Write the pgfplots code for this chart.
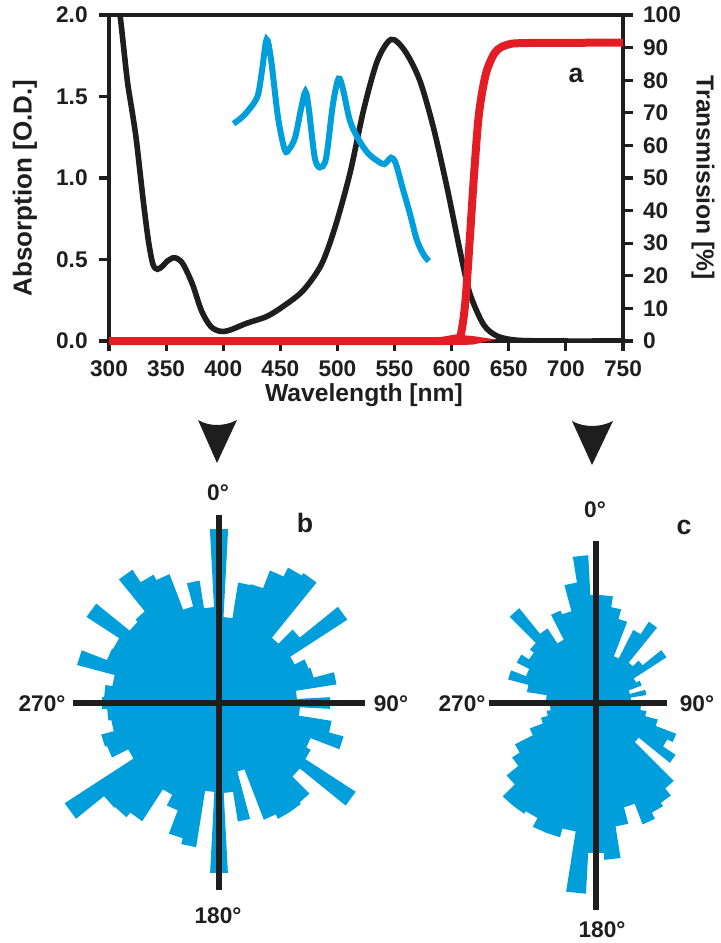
\documentclass[border=0pt]{standalone}
\usepackage{fontspec}
\setmainfont{Liberation Sans}
\usepackage{pgfplots}
\usepackage{pgfplotstable}
\pgfplotsset{compat=1.18}
\usepgfplotslibrary{polar}

\definecolor{specblue}{RGB}{0,158,219}
\definecolor{tred}{RGB}{226,30,36}
\definecolor{ink}{RGB}{30,30,30}

% absorption of the dye (left axis)
\pgfplotstableread{
lam A
305 2.25
310 1.98
316 1.60
320 1.42
324 1.23
330 0.86
334.5 0.615
338.5 0.47
342.5 0.44
347 0.46
351 0.49
356 0.51
360 0.505
365 0.47
373 0.35
381 0.185
389 0.09
397 0.06
405 0.065
421 0.11
438 0.15
453 0.215
470 0.31
486 0.47
498 0.70
511 1.03
523 1.42
535 1.72
547 1.85
559 1.78
572 1.60
584 1.31
596 0.94
608 0.53
616 0.29
628 0.10
640 0.03
657 0.005
690 0
750 0
}\absorb

% emission spectrum (blue)
\pgfplotstableread{
lam A
409 1.333
416 1.37
422 1.415
430 1.50
434 1.66
438 1.85
442 1.72
448 1.37
454 1.17
458 1.18
463 1.25
468 1.42
472 1.53
475 1.42
480 1.13
484.5 1.065
490 1.12
496 1.45
501 1.61
505 1.54
511 1.35
519 1.23
527 1.15
535 1.105
541 1.085
547 1.125
551 1.09
557 0.94
563.5 0.78
569.5 0.62
575.5 0.53
580 0.49
}\emis

% filter transmission (right axis)
\pgfplotstableread{
lam T
300 0
600 0
604 0.8
608 2
612 12
616 32
620 53
624 70
630 82
638 88.5
648 90.8
665 91.4
750 91.5
}\trans

% rose b: compass angle, radius (6 deg bins, two rows per bin)
\pgfplotstableread[row sep=\\]{
ang r\\
-3 174\\ 3 174\\ 3 86\\ 9 86\\ 9 122\\ 15 122\\ 15 123\\ 21 123\\
21 142\\ 27 142\\ 27 152\\ 33 152\\ 33 155\\ 39 155\\ 39 84\\ 45 84\\
45 104\\ 51 104\\ 51 153\\ 57 153\\ 57 85\\ 63 85\\ 63 96\\ 69 96\\
69 98\\ 75 98\\ 75 119\\ 81 119\\ 81 78\\ 87 78\\ 87 111\\ 93 111\\
93 81\\ 99 81\\ 99 114\\ 105 114\\ 105 129\\ 111 129\\ 111 98\\ 117 98\\
117 103\\ 123 103\\ 123 163\\ 129 163\\ 129 104\\ 135 104\\ 135 128\\ 141 128\\
141 130\\ 147 130\\ 147 130\\ 153 130\\ 153 125\\ 159 125\\ 159 71\\ 165 71\\
165 120\\ 171 120\\ 171 90\\ 177 90\\ 177 170\\ 183 170\\ 183 89\\ 189 89\\
189 146\\ 195 146\\ 195 140\\ 201 140\\ 201 115\\ 207 115\\ 207 103\\ 213 103\\
213 141\\ 219 141\\ 219 147\\ 225 147\\ 225 148\\ 231 148\\ 231 184\\ 237 184\\
237 102\\ 243 102\\ 243 120\\ 249 120\\ 249 122\\ 255 122\\ 255 109\\ 261 109\\
261 112\\ 267 112\\ 267 117\\ 273 117\\ 273 115\\ 279 115\\ 279 108\\ 285 108\\
285 147\\ 291 147\\ 291 120\\ 297 120\\ 297 119\\ 303 119\\ 303 158\\ 309 158\\
309 115\\ 315 115\\ 315 118\\ 321 118\\ 321 159\\ 327 159\\ 327 144\\ 333 144\\
333 138\\ 339 138\\ 339 100\\ 345 100\\ 345 124\\ 351 124\\ 351 96\\ 357 96\\
}\roseb

% rose c
\pgfplotstableread[row sep=\\]{
ang r\\
-3 108\\ 3 108\\ 3 108\\ 9 108\\ 9 97\\ 15 97\\ 15 87\\ 21 87\\
21 50\\ 27 50\\ 27 82\\ 33 82\\ 33 97\\ 39 97\\ 39 52\\ 45 52\\
45 60\\ 51 60\\ 51 84\\ 57 84\\ 57 45\\ 63 45\\ 63 49\\ 69 49\\
69 35\\ 75 35\\ 75 51\\ 81 51\\ 81 35\\ 87 35\\ 87 40\\ 93 40\\
93 45\\ 99 45\\ 99 51\\ 105 51\\ 105 64\\ 111 64\\ 111 86\\ 117 86\\
117 80\\ 123 80\\ 123 95\\ 129 95\\ 129 55\\ 135 55\\ 135 110\\ 141 110\\
141 119\\ 147 119\\ 147 123\\ 153 123\\ 153 130\\ 159 130\\ 159 108\\ 165 108\\
165 125\\ 171 125\\ 171 157\\ 177 157\\ 177 150\\ 183 150\\ 183 191\\ 189 191\\
189 130\\ 195 130\\ 195 139\\ 201 139\\ 201 139\\ 207 139\\ 207 129\\ 213 129\\
213 132\\ 219 132\\ 219 132\\ 225 132\\ 225 115\\ 231 115\\ 231 100\\ 237 100\\
237 91\\ 243 91\\ 243 71\\ 249 71\\ 249 57\\ 255 57\\ 255 50\\ 261 50\\
261 46\\ 267 46\\ 267 48\\ 273 48\\ 273 50\\ 279 50\\ 279 70\\ 285 70\\
285 91\\ 291 91\\ 291 75\\ 297 75\\ 297 89\\ 303 89\\ 303 80\\ 309 80\\
309 85\\ 315 85\\ 315 122\\ 321 122\\ 321 89\\ 327 89\\ 327 71\\ 333 71\\
333 99\\ 339 99\\ 339 95\\ 345 95\\ 345 122\\ 351 122\\ 351 148\\ 357 148\\
}\rosec

\pgfplotsset{
  spec/.style={
    at={(81.75pt,-255.75pt)}, anchor=south west,
    scale only axis, width=385.5pt, height=244.5pt,
    xmin=300, xmax=750,
    axis line style={line width=3.3pt, ink, line cap=rect},
    tick style={line width=2.4pt, ink},
    major tick length=7.5pt,
    tick align=outside,
    ticklabel style={font=\fontsize{17}{18}\selectfont\bfseries, text=ink},
    /pgf/number format/assume math mode=true,
  },
  rose/.style={
    anchor=center, scale only axis, width=300pt, height=300pt,
    xmin=0, xmax=360, ymin=0, ymax=200,
    hide axis, clip=false,
  },
}

\newcommand{\lbl}{\fontsize{17}{18}\selectfont\bfseries}
\newcommand{\panel}{\fontsize{20}{21}\selectfont\bfseries}

\begin{document}
\begin{tikzpicture}[x=1pt,y=1pt]
\path[use as bounding box] (0,0) rectangle (540.75,-707.25);

\begin{axis}[spec,
  ymin=0, ymax=2,
  axis y line*=left,
  xtick pos=bottom, ytick pos=left,
  xtick={300,350,...,750},
  ytick={0,0.5,1,1.5,2},
  yticklabel style={xshift=-5pt, /pgf/number format/.cd, fixed, fixed zerofill, precision=1},
  xticklabel style={yshift=-4pt},
]
\addplot[ink, line width=4.2pt, smooth] table[x=lam, y=A] {\absorb};
\addplot[specblue, line width=4.5pt, smooth] table[x=lam, y=A] {\emis};
\end{axis}

\begin{axis}[spec,
  ymin=0, ymax=100,
  axis y line*=right, axis x line=none,
  ytick={0,10,...,100},
  yticklabel style={xshift=4pt},
  clip=false,
]
\addplot[tred, line width=6pt, smooth] table[x=lam, y=T] {\trans};
\end{axis}

\node[rotate=90, font=\fontsize{19.5}{20}\selectfont\bfseries, text=ink] at (18.75,-141) {Absorption [O.D.]};
\node[rotate=-90, font=\fontsize{18.5}{19}\selectfont\bfseries, text=ink] at (527.25,-133.5) {Transmission [\%]};
\node[font=\fontsize{18.5}{19}\selectfont\bfseries, text=ink] at (273,-296.5) {Wavelength [nm]};
\node[font=\panel, text=ink] at (432,-56.25) {a};

% arrows pointing to the two roses
\fill[ink] (148.5,-315) .. controls (157,-320) and (168,-320) .. (177.75,-315) -- (162.75,-347.25) -- cycle;
\fill[ink] (429,-315.75) .. controls (438,-320.75) and (450,-320.75) .. (459.75,-315.75) -- (444,-348.75) -- cycle;

% rose b
\begin{polaraxis}[rose, at={(164.25pt,-527.25pt)}]
\addplot[fill=specblue, draw=none] table[x expr=90-\thisrow{ang}, y=r] {\roseb};
\addplot[ink, line width=4pt] coordinates {(90,188) (270,187)};
\addplot[ink, line width=4pt] coordinates {(180,146) (0,146)};
\end{polaraxis}

% rose c
\begin{polaraxis}[rose, at={(447pt,-527.25pt)}]
\addplot[fill=specblue, draw=none] table[x expr=90-\thisrow{ang}, y=r] {\rosec};
\addplot[ink, line width=4pt] coordinates {(90,162) (270,207)};
\addplot[ink, line width=4pt] coordinates {(180,107) (0,71)};
\end{polaraxis}

\node[font=\lbl, text=ink] at (163.5,-369.75) {0°};
\node[font=\panel, text=ink] at (228.75,-392.25) {b};
\node[font=\lbl, text=ink] at (31.5,-528) {270°};
\node[font=\lbl, text=ink] at (293.25,-528) {90°};
\node[font=\lbl, text=ink] at (163.5,-687) {180°};

\node[font=\lbl, text=ink] at (446.25,-382.5) {0°};
\node[font=\panel, text=ink] at (513,-395.25) {c};
\node[font=\lbl, text=ink] at (346.5,-528) {270°};
\node[font=\lbl, text=ink] at (522.75,-528) {90°};
\node[font=\lbl, text=ink] at (451.5,-697.5) {180°};
\end{tikzpicture}
\end{document}
